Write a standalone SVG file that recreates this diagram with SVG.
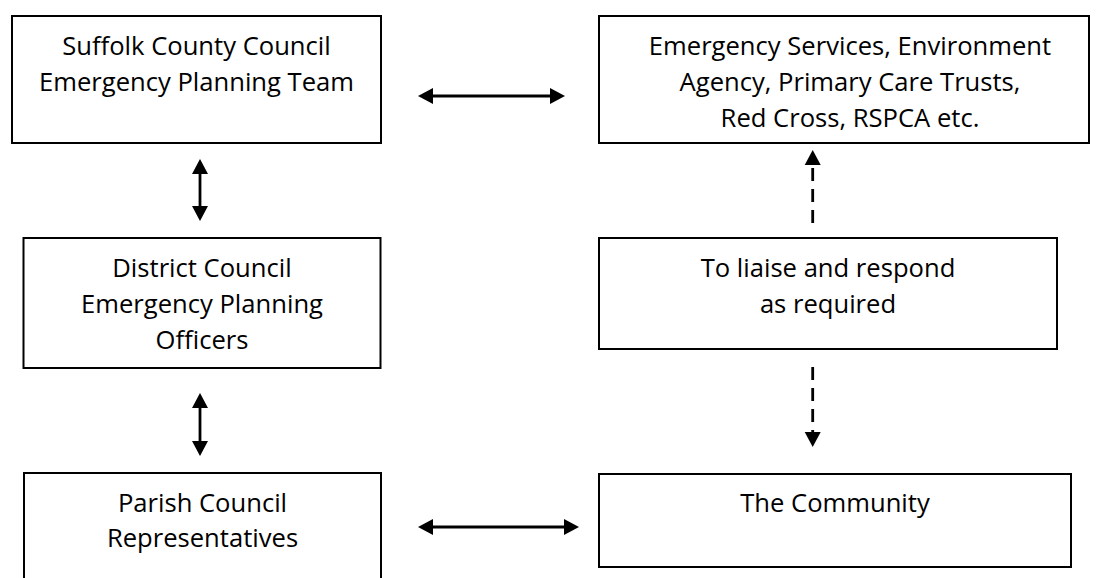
<svg xmlns="http://www.w3.org/2000/svg" width="1100" height="578" viewBox="0 0 1100 578">
<style>
.box{fill:#fff;stroke:#000;stroke-width:2}
.t{font-family:"Open Sans","Liberation Sans",sans-serif;font-size:25.6px;fill:#000;text-anchor:middle}
.c{stroke:#000;stroke-width:2.8;fill:none}
.d{stroke-dasharray:13 8}
</style>
<defs>
<marker id="ah" markerUnits="userSpaceOnUse" markerWidth="18" markerHeight="18" refX="1" refY="0" viewBox="0 -9 17 18" orient="auto-start-reverse" overflow="visible">
<path d="M0,-8 L15,0 L0,8 z" fill="#000"/>
</marker>
</defs>
<rect width="1100" height="578" fill="#fff"/>
<g id="scc">
<rect class="box" x="12" y="16" width="369" height="127"/>
<text class="t" x="196.5" y="55">Suffolk County Council</text>
<text class="t" x="196.5" y="91">Emergency Planning Team</text>
</g>
<g id="services">
<rect class="box" x="599" y="16" width="490" height="127"/>
<text class="t" x="850" y="55">Emergency Services, Environment</text>
<text class="t" x="850" y="91">Agency, Primary Care Trusts,</text>
<text class="t" x="850" y="127">Red Cross, RSPCA etc.</text>
</g>
<g id="district">
<rect class="box" x="23.5" y="238" width="357" height="130"/>
<text class="t" x="202" y="277">District Council</text>
<text class="t" x="202" y="313">Emergency Planning</text>
<text class="t" x="202" y="349">Officers</text>
</g>
<g id="liaise">
<rect class="box" x="599" y="238" width="458" height="111"/>
<text class="t" x="828" y="277">To liaise and respond</text>
<text class="t" x="828" y="313">as required</text>
</g>
<g id="parish">
<rect class="box" x="24" y="473" width="357" height="120"/>
<text class="t" x="202.5" y="512">Parish Council</text>
<text class="t" x="202.5" y="547">Representatives</text>
</g>
<g id="community">
<rect class="box" x="599" y="474" width="472" height="93"/>
<text class="t" x="835" y="512">The Community</text>
</g>
<g id="connectors">
<line class="c" x1="432" y1="96" x2="551" y2="96" marker-start="url(#ah)" marker-end="url(#ah)"/>
<line class="c" x1="432" y1="527" x2="565" y2="527" marker-start="url(#ah)" marker-end="url(#ah)"/>
<line class="c" x1="200" y1="173" x2="200" y2="207" marker-start="url(#ah)" marker-end="url(#ah)"/>
<line class="c" x1="200" y1="407" x2="200" y2="442" marker-start="url(#ah)" marker-end="url(#ah)"/>
<line class="c d" x1="812.7" y1="223" x2="812.7" y2="164" marker-end="url(#ah)"/>
<line class="c d" x1="812.7" y1="367" x2="812.7" y2="433" marker-end="url(#ah)"/>
</g>
</svg>
